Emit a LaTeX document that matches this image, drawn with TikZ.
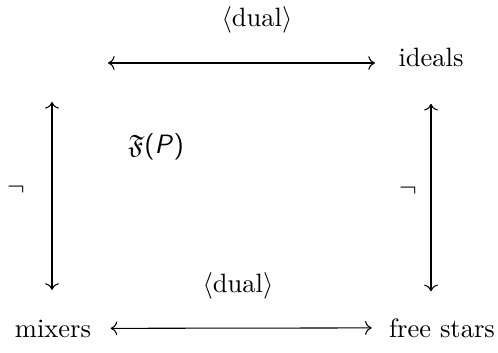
\documentclass[tikz,border=0pt]{standalone}
\usepackage{amsmath,amssymb}
\usepackage{tikz}
\usetikzlibrary{arrows.meta}
\usetikzlibrary{positioning}

\tikzset{
    corner/.style={inner sep=0pt, anchor=base},
    dualarrow/.style={<->, >=To},
}

\begin{document}
\begin{tikzpicture}[x=0.377pt, y=-0.377pt]
        \useasboundingbox (0,0) rectangle (498,353);
        % corner objects
        \node [corner] (ideals) at (431,67) {ideals};
        \node [corner] (mixers) at (53,337) {mixers};
        \node [corner] (free) at (442,337) {free stars};
        \coordinate (tl) at (108,63); % free end of the top arrow
        \coordinate (lt) at (52,102); % free end of the left arrow

        \draw [dualarrow, shorten >=8.7pt] (tl) -- (tl -| ideals.west);
        \draw [dualarrow, shorten <=7.2pt, shorten >=6.4pt] (mixers) -- (free);
        \draw [dualarrow, shorten >=11pt] (lt) -- (lt |- mixers.north);
        \draw [dualarrow, shorten <=13.6pt, shorten >=10pt] (ideals.south) -- (ideals.south |- free.north);

        % labels
        \node (dualtop) at (257,20) {$\langle$dual$\rangle$};
        \node (dualbot) at (238,286) {$\langle$dual$\rangle$};
        \node (negl) at (16,190) {$\neg$};
        \node (negr) at (408,191) {$\neg$};
        \node (frak) at (156,147) {\sffamily $\mathfrak{F}$(\textit{P})};
\end{tikzpicture}
\end{document}
